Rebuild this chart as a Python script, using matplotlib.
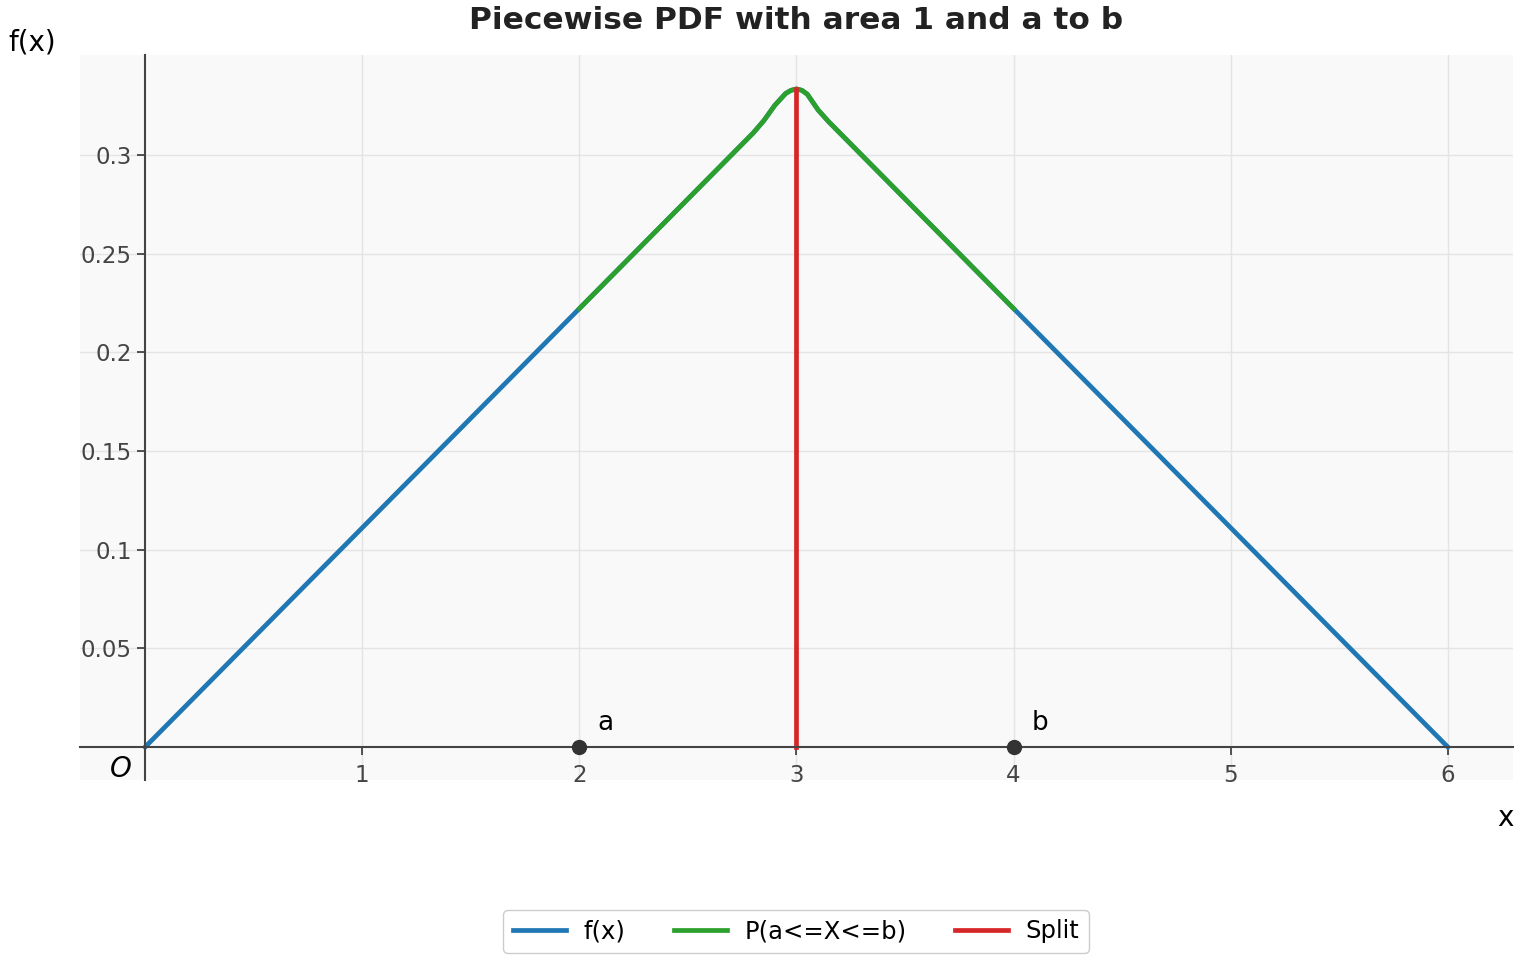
import matplotlib.pyplot as plt
from matplotlib.ticker import FixedLocator

# points (peak is rounded off near x = 3)
x_pts = [0, 1, 2, 2.8, 2.85, 2.9, 2.95, 2.975, 3.0, 3.025, 3.05, 3.1, 3.15, 4, 5, 6]
f_pts = [0, 0.1111, 0.2222, 0.3111, 0.3175, 0.3252, 0.3312, 0.3328, 0.3335,
         0.3328, 0.3308, 0.3228, 0.3167, 0.2222, 0.1111, 0]
a, b = 2, 4
split = 3
peak = 0.3335

xticks = [1, 2, 3, 4, 5, 6]
yticks = [0.05, 0.1, 0.15, 0.2, 0.25, 0.3]
ytick_labels = ['0.05', '0.1', '0.15', '0.2', '0.25', '0.3']

fig = plt.figure(figsize=(15.2, 9.6), dpi=100)
ax = fig.add_axes([0.0526, 0.1875, 0.9428, 0.7552])
ax.set_facecolor('#f9f9f9')

ax.plot(x_pts, f_pts, color='#1f77b4', lw=3.4, label='f(x)')
xa = [x for x in x_pts if a <= x <= b]
ya = [y for x, y in zip(x_pts, f_pts) if a <= x <= b]
ax.plot(xa, ya, color='#2ca02c', lw=3.4, label='P(a<=X<=b)')
ax.plot([split, split], [0, peak], color='#d62728', lw=3.4, label='Split')

ax.plot([a, b], [0, 0], 'o', color='#333333', ms=10, zorder=5)
ax.annotate('a', (a, 0), xytext=(13, 12), textcoords='offset points', fontsize=19)
ax.annotate('b', (b, 0), xytext=(13, 12), textcoords='offset points', fontsize=19)

ax.set_xlim(-0.30, 6.30)
ax.set_ylim(-0.0167, 0.3507)
ax.spines['left'].set_position(('data', 0))
ax.spines['bottom'].set_position(('data', 0))
ax.spines['top'].set_visible(False)
ax.spines['right'].set_visible(False)
for s in ['left', 'bottom']:
    ax.spines[s].set_color('#444444')
    ax.spines[s].set_linewidth(1.5)

ax.xaxis.set_major_locator(FixedLocator(xticks))
ax.set_yticks(yticks)
ax.set_yticklabels(ytick_labels)
ax.tick_params(colors='#444444', labelsize=16.5, length=6, width=1.3)
ax.tick_params(axis='x', pad=6.5)
ax.grid(True, color='#e4e4e4', lw=1)
ax.set_axisbelow(True)

ax.text(-0.06, -0.004, 'O', ha='right', va='top', fontsize=20, style='italic')
fig.text(0.9905, 0.148, 'x', ha='center', va='center', fontsize=20)
fig.text(0.021, 0.956, 'f(x)', ha='center', va='center', fontsize=20)
fig.text(0.5237, 0.979, 'Piecewise PDF with area 1 and a to b', ha='center', va='center',
         fontsize=22.5, fontweight='bold', color='#222222')

fig.legend(loc='center', bbox_to_anchor=(0.5237, 0.0297), ncol=3, fontsize=17.5,
           handlelength=2.2, handletextpad=0.7, columnspacing=2.0, framealpha=1, edgecolor='#cccccc')

fig.savefig('out.png', dpi=100)
